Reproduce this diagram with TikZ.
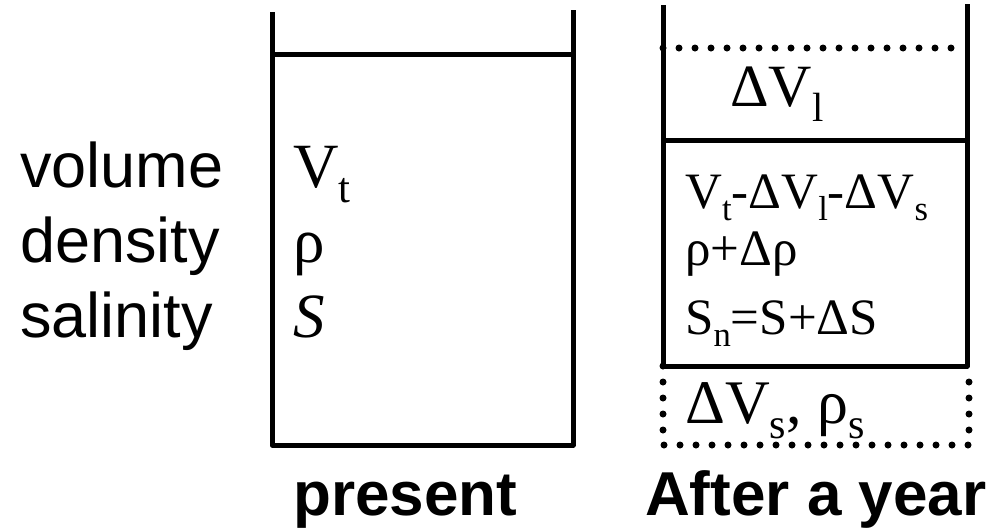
\documentclass[tikz,border=0pt]{standalone}
\usepackage{fontspec}
\setmainfont{Liberation Serif}
\setsansfont{Liberation Sans}
\usepackage{graphicx}
% lowered, smaller subscript in running text
\newcommand\lowsub[1]{\raisebox{-0.25em}{\scalebox{0.68}{#1}}}
\tikzset{
  wall/.style={line width=5pt, line join=round},
  dotline/.style={line width=7pt, line cap=round, dash pattern=on 0pt off 16pt},
  lbl/.style={anchor=base west, inner sep=0pt, font=\sffamily\fontsize{63}{70}\selectfont},
  qty/.style={anchor=base west, inner sep=0pt, font=\rmfamily\fontsize{63}{70}\selectfont},
  qtysmall/.style={anchor=base west, inner sep=0pt, font=\rmfamily\fontsize{51}{60}\selectfont},
  caption/.style={anchor=base west, inner sep=0pt, font=\sffamily\bfseries\fontsize{62}{70}\selectfont}
}
\begin{document}
\begin{tikzpicture}[x=1pt, y=-1pt]
\useasboundingbox (0,0) rectangle (991,528);

% present-day container
\coordinate (pTL) at (272,12);
\coordinate (pTR) at (573,10);
\coordinate (pBL) at (272,445);
\coordinate (pBR) at (573,445);
\draw[wall] (pTL) -- (pBL) -- (pBR) -- (pTR);
\draw[wall] (272,54) -- (573,54);

% container after one year
\coordinate (aTL) at (663,5);
\coordinate (aTR) at (967,4);
\coordinate (aBL) at (663,366);
\coordinate (aBR) at (967,366);
\draw[wall] (aTL) -- (aBL) -- (aBR) -- (aTR);
\draw[wall] (663,140) -- (967,140);
\draw[dotline] (663,48) -- (967,48);
\draw[dotline] (663,366) -- (663,445) -- (969,445) -- (969,367);

% row labels
\node[lbl] (lv) at (20,187) {volume};
\node[lbl] (ld) at (20,262) {density};
\node[lbl] (ls) at (20,337) {salinity};

% present quantities
\node[qty] (qv) at (293,187) {V\lowsub{t}};
\node[qty] (qr) at (293,262) {ρ};
\node[qty] (qs) at (293,337) {\textit{S}};

% quantities after a year
\node[qty, font=\rmfamily\fontsize{60}{66}\selectfont] (dvl) at (730,106) {ΔV\lowsub{l}};
\node[qtysmall] (nv) at (685,208) {V\lowsub{t}-ΔV\lowsub{l}-ΔV\lowsub{s}};
\node[qtysmall] (nr) at (685,265) {ρ+Δρ};
\node[qtysmall] (ns) at (685,334) {S\lowsub{n}=S+ΔS};
\node[qty, font=\rmfamily\fontsize{62}{70}\selectfont] (dvs) at (685,423) {ΔV\lowsub{s}, ρ\lowsub{s}};

% captions
\node[caption] (cp) at (293,515) {present};
\node[caption] (ca) at (645,515) {After a year};
\end{tikzpicture}
\end{document}
